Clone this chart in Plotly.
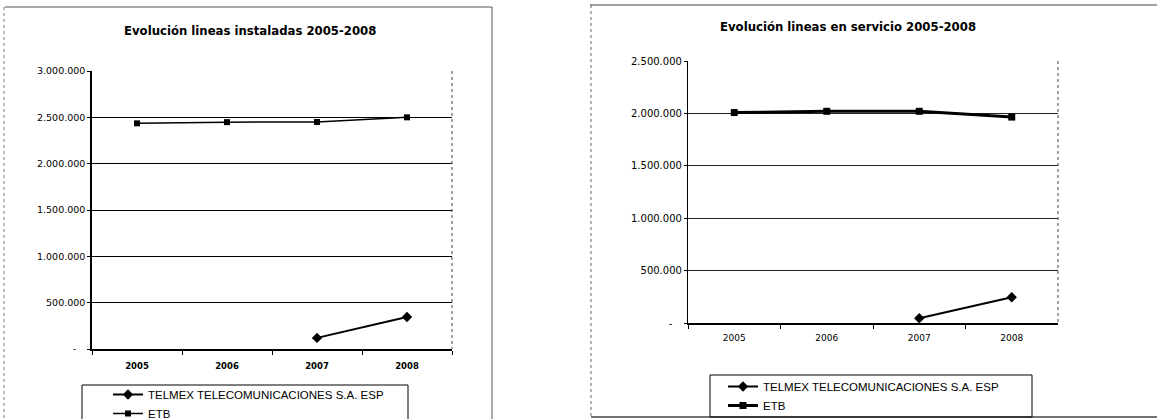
import plotly.graph_objects as go

W, H = 1157, 419

years = ["2005", "2006", "2007", "2008"]
inst_telmex = [None, None, 120000, 345000]
inst_etb = [2435000, 2448000, 2450000, 2500000]
serv_telmex = [None, None, 45000, 245000]
serv_etb = [2008000, 2020000, 2020000, 1965000]

inst_ticks = [0, 500000, 1000000, 1500000, 2000000, 2500000, 3000000]
inst_ticktext = ["-\u00a0\u00a0\u00a0", "500.000", "1.000.000", "1.500.000", "2.000.000", "2.500.000", "3.000.000"]
serv_ticks = [0, 500000, 1000000, 1500000, 2000000, 2500000]
serv_ticktext = ["-\u00a0\u00a0\u00a0", "500.000", "1.000.000", "1.500.000", "2.000.000", "2.500.000"]

name_telmex = "TELMEX TELECOMUNICACIONES S.A. ESP"
name_etb = "ETB"

def px(x):
    return x / W

def py(y):
    return (H - y) / H

fig = go.Figure()

# left chart
fig.add_trace(go.Scatter(x=years, y=inst_telmex, name=name_telmex, mode="lines+markers",
                         line=dict(color="black", width=2), marker=dict(symbol="diamond", size=8, color="black"),
                         xaxis="x", yaxis="y", legend="legend"))
fig.add_trace(go.Scatter(x=years, y=inst_etb, name=name_etb, mode="lines+markers",
                         line=dict(color="black", width=1.5), marker=dict(symbol="square", size=6, color="black"),
                         xaxis="x", yaxis="y", legend="legend"))
# right chart
fig.add_trace(go.Scatter(x=years, y=serv_telmex, name=name_telmex, mode="lines+markers",
                         line=dict(color="black", width=2), marker=dict(symbol="diamond", size=8, color="black"),
                         xaxis="x2", yaxis="y2", legend="legend2"))
fig.add_trace(go.Scatter(x=years, y=serv_etb, name=name_etb, mode="lines+markers",
                         line=dict(color="black", width=3), marker=dict(symbol="square", size=7, color="black"),
                         xaxis="x2", yaxis="y2", legend="legend2"))

fig.update_layout(
    width=W, height=H,
    margin=dict(l=0, r=0, t=0, b=0, autoexpand=False),
    paper_bgcolor="white", plot_bgcolor="white",
    font=dict(family="Liberation Sans", color="black"),
    xaxis=dict(domain=[px(92), px(452)], anchor="y", type="category", range=[-0.5, 3.5],
               showgrid=False, showline=True, linecolor="black", linewidth=1.5,
               ticks="outside", tickson="boundaries", ticklen=4, tickcolor="black",
               ticklabelstandoff=8,
               tickfont=dict(family="DejaVu Sans", size=8.5, color="black", weight="bold"),
               fixedrange=True, automargin=False),
    yaxis=dict(domain=[py(349), py(71)], anchor="x", range=[0, 3000000],
               tickvals=inst_ticks, ticktext=inst_ticktext,
               showgrid=True, gridcolor="black", gridwidth=1, zeroline=False,
               showline=True, linecolor="black", linewidth=1.5,
               ticks="outside", ticklen=3, tickcolor="black",
               tickfont=dict(family="DejaVu Sans", size=9.5, color="black"),
               fixedrange=True, automargin=False),
    xaxis2=dict(domain=[px(688), px(1058)], anchor="y2", type="category", range=[-0.5, 3.5],
                showgrid=False, showline=True, linecolor="black", linewidth=1.5,
                ticks="outside", tickson="boundaries", ticklen=4, tickcolor="black",
                ticklabelstandoff=5,
                tickfont=dict(family="DejaVu Sans", size=9, color="black"),
                fixedrange=True, automargin=False),
    yaxis2=dict(domain=[py(323), py(61)], anchor="x2", range=[0, 2500000],
                tickvals=serv_ticks, ticktext=serv_ticktext,
                showgrid=True, gridcolor="#222", gridwidth=0.8, zeroline=False,
                showline=True, linecolor="black", linewidth=1.2,
                ticks="outside", ticklen=3, tickcolor="black",
                tickfont=dict(family="DejaVu Sans", size=10, color="black"),
                fixedrange=True, automargin=False),
    legend=dict(x=px(108), y=py(380), xanchor="left", yanchor="top", bgcolor="rgba(0,0,0,0)",
                borderwidth=0, font=dict(family="Liberation Sans", size=11.5, color="black"),
                tracegroupgap=0, itemwidth=30, traceorder="normal"),
    legend2=dict(x=px(723), y=py(372), xanchor="left", yanchor="top", bgcolor="rgba(0,0,0,0)",
                 borderwidth=0, font=dict(family="Liberation Sans", size=11.5, color="black"),
                 tracegroupgap=0, itemwidth=30, traceorder="normal"),
    showlegend=True,
)

# titles
fig.add_annotation(text="<b>Evolución lineas instaladas 2005-2008</b>", xref="paper", yref="paper",
                   x=px(250), y=py(31), xanchor="center", yanchor="middle", showarrow=False,
                   font=dict(family="DejaVu Sans", size=11.7, color="black"))
fig.add_annotation(text="<b>Evolución lineas en servicio 2005-2008</b>", xref="paper", yref="paper",
                   x=px(848), y=py(27), xanchor="center", yanchor="middle", showarrow=False,
                   font=dict(family="DejaVu Sans", size=11.7, color="black"))

shapes = []
# outer left box
shapes.append(dict(type="line", xref="paper", yref="paper", x0=px(5), x1=px(492), y0=py(7), y1=py(7),
                   line=dict(color="#555", width=1)))
shapes.append(dict(type="line", xref="paper", yref="paper", x0=px(4), x1=px(4), y0=py(7), y1=py(419),
                   line=dict(color="#777", width=1, dash="dot")))
shapes.append(dict(type="line", xref="paper", yref="paper", x0=px(492), x1=px(492), y0=py(7), y1=py(419),
                   line=dict(color="#555", width=1)))
# outer right box
shapes.append(dict(type="line", xref="paper", yref="paper", x0=px(590), x1=px(1157), y0=py(5), y1=py(5),
                   line=dict(color="#444", width=1)))
shapes.append(dict(type="line", xref="paper", yref="paper", x0=px(591), x1=px(591), y0=py(5), y1=py(417),
                   line=dict(color="#666", width=1, dash="dot")))
shapes.append(dict(type="line", xref="paper", yref="paper", x0=px(591), x1=px(1157), y0=py(417), y1=py(417),
                   line=dict(color="#444", width=1.5)))
# right plot area borders (dotted)
shapes.append(dict(type="line", xref="paper", yref="paper", x0=px(452), x1=px(452), y0=py(71), y1=py(349),
                   line=dict(color="#444", width=1, dash="dot")))
shapes.append(dict(type="line", xref="paper", yref="paper", x0=px(1058), x1=px(1058), y0=py(61), y1=py(323),
                   line=dict(color="#444", width=1, dash="dot")))
# legend boxes
shapes.append(dict(type="rect", xref="paper", yref="paper", x0=px(82), x1=px(408), y0=py(385), y1=py(425),
                   line=dict(color="black", width=1)))
shapes.append(dict(type="rect", xref="paper", yref="paper", x0=px(710), x1=px(1032), y0=py(375), y1=py(417),
                   line=dict(color="black", width=1)))
fig.update_layout(shapes=shapes)

fig.write_html("out.html", config={"displayModeBar": False},
               post_script="document.body.style.margin='0px';")
